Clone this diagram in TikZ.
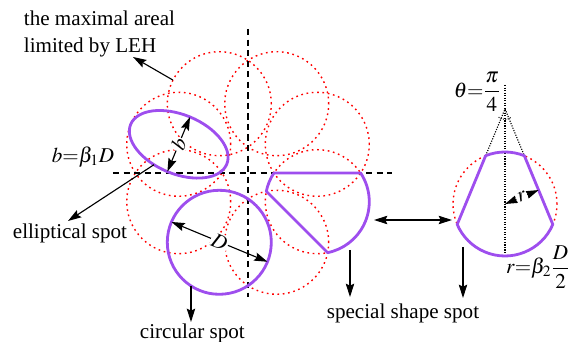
\documentclass[tikz,border=0pt]{standalone}
\usepackage{mathptmx}
\usepackage{fontspec}
\setmainfont{Liberation Serif}
\usetikzlibrary{arrows.meta,shapes.geometric,calc}
\definecolor{spot}{RGB}{158,78,238}
\begin{document}
\begin{tikzpicture}[font=\fontsize{15}{19.8}\selectfont,
	>={Stealth[length=9.5pt,width=6pt,inset=1.5pt]},
	a/.style={circle,draw=red,line width=1pt,dash pattern=on 1.2pt off 2.6pt,minimum size=2.6cm,inner sep=0pt,outer sep=0pt},
	s/.style={draw=spot,line width=2pt,line join=round},
	g/.style={line width=0.8pt,dash pattern=on 4.5pt off 3pt},
	k/.style={->,line width=0.8pt},
	t/.style={fill=white,inner sep=1pt}]
	\useasboundingbox (-6.2,-4.225) rectangle (8.025,4.325);
	\foreach \i in {1,...,8}
		\node[a] (c\i) at ({45*\i-22.5}:1.875) {};
	\coordinate (vt) at (0,3.6);
	\coordinate (vb) at (0,-3.1);
	\coordinate (hl) at (-3.375,0);
	\coordinate (hr) at (3.6,0);
	\draw[g] (vt) -- (vb);
	\draw[g] (hl) -- (hr);
	\node[s,ellipse,minimum width=2.6cm,minimum height=1.48cm,inner sep=0pt,outer sep=0pt,rotate=157.5] (ell) at (c4) {};
	\draw[<->,line width=0.8pt] (ell.north) -- node[t,rotate=67.5]{$b$} (ell.south);
	\node[s,circle,minimum size=2.6cm,inner sep=0pt,outer sep=0pt] (circ) at (c6) {};
	\draw[<->,line width=0.8pt] (circ.157.5) -- node[t,rotate=-22.5]{$D$} (circ.-22.5);
	\draw[s] (0:0.648) -- (0:2.816) arc[start angle=33.5,end angle=-78.5,radius=1.3]
		-- (-45:0.648) arc[start angle=168.5,end angle=146.5,radius=1.3] -- cycle;
	\node[a] (cr) at (6.425,-0.775) {};
	\coordinate (o) at (6.425,1.6);
	\coordinate (top) at (6.425,2.2);
	\coordinate (p1) at ($(o)+(247.5:1.2647)$);
	\coordinate (p2) at ($(o)+(292.5:1.2647)$);
	\coordinate (p3) at ($(o)+(292.5:3.1237)$);
	\draw[densely dotted,line width=0.8pt] (top) -- (cr.south);
	\draw[densely dotted,line width=0.8pt] (p1) -- (o) -- (p2);
	\draw[densely dotted,line width=0.7pt] ($(o)+(232:0.26)$) arc[start angle=232,end angle=308,radius=0.26];
	\draw[s] (p1) arc[start angle=111.85,end angle=68.15,radius=1.3] -- (p3)
		arc[start angle=-23.15,end angle=-156.85,radius=1.3] -- cycle;
	\draw[<->,line width=0.8pt] (cr.center) -- node[t,rotate=22.5]{$r$} ($(cr.center)+(22.5:0.909)$);
	\node (th) at (5.725,2.025) {$\displaystyle\theta{=}\frac{\pi}{4}$};
	\node (rt) at (7.25,-2.35) {$\displaystyle r{=}\beta_2\frac{D}{2}$};
	\node (bt) at (-4.125,0.4) {$b{=}\beta_1D$};
	\node[anchor=west,align=left] (leh) at (-5.725,3.475) {the maximal areal\\limited by LEH};
	\node (et) at (-4.45,-1.5) {elliptical spot};
	\node (ct) at (-1.39,-4.0) {circular spot};
	\node (st) at (3.875,-3.5) {special shape spot};
	\coordinate (l1) at (-2.875,2.9);
	\coordinate (e1) at (-4.5,-1.2);
	\coordinate (c0) at (-1.4255,-3.725);
	\coordinate (s1) at (2.55,-1.925);
	\coordinate (s2) at (2.55,-3.1);
	\coordinate (r1) at (5.375,-1.85);
	\coordinate (r2) at (5.375,-3.125);
	\coordinate (m1) at (3.15,-1.175);
	\coordinate (m2) at (5.1,-1.175);
	\draw[k] (c3.153) -- (l1);
	\draw[k] (ell.62) -- (e1);
	\draw[k] (circ.237) -- (c0);
	\draw[k] (s1) -- (s2);
	\draw[k] (r1) -- (r2);
	\draw[<->,line width=0.8pt] (m1) -- (m2);
\end{tikzpicture}
\end{document}
